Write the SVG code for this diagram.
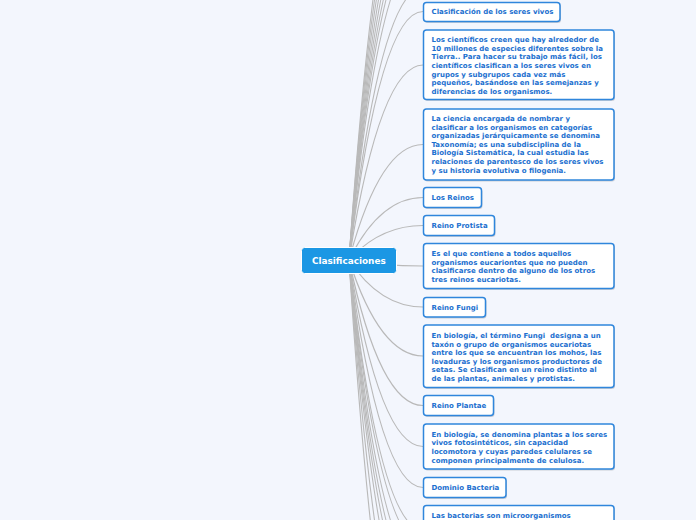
<svg xmlns="http://www.w3.org/2000/svg" width="696" height="520" viewBox="0 0 696 520">
<style>
.bg{fill:#f3f6fd}
.c{fill:none;stroke:#b9b9b9;stroke-width:1.2}
.sh{fill:#c9cdd6}
.box{fill:#ffffff;stroke:#2f86dc;stroke-width:1.5}
.t{font-family:"DejaVu Sans","Verdana",sans-serif;font-weight:bold;font-size:7px;fill:#1c70cf}
.root{fill:#1b97e4;stroke:#ffffff;stroke-width:1}
.rt{font-family:"DejaVu Sans","Verdana",sans-serif;font-weight:bold;font-size:8.9px;fill:#ffffff}
</style>
<rect class="bg" x="0" y="0" width="696" height="520"/>
<g id="connectors">
<path class="c" d="M349 260 Q380 -180 423 -180"/>
<path class="c" d="M349 260 Q380 -160 423 -160"/>
<path class="c" d="M349 260 Q380 -140 423 -140"/>
<path class="c" d="M349 260 Q380 -120 423 -120"/>
<path class="c" d="M349 260 Q380 -102 423 -102"/>
<path class="c" d="M349 260 Q380 -85 423 -85"/>
<path class="c" d="M349 260 Q380 -70 423 -70"/>
<path class="c" d="M349 260 Q380 -50 423 -50"/>
<path class="c" d="M349 260 Q380 -12 423 -12"/>
<path class="c" d="M349 260 Q380 11.5 423 11.5"/>
<path class="c" d="M349 260 Q380 65 423 65"/>
<path class="c" d="M349 260 Q380 144.5 423 144.5"/>
<path class="c" d="M349 260 Q380 197.5 423 197.5"/>
<path class="c" d="M349 260 Q380 225.5 423 225.5"/>
<path class="c" d="M349 260 Q380 266 423 266"/>
<path class="c" d="M349 260 Q380 307 423 307"/>
<path class="c" d="M349 260 Q380 356 423 356"/>
<path class="c" d="M349 260 Q380 405.5 423 405.5"/>
<path class="c" d="M349 260 Q380 446.5 423 446.5"/>
<path class="c" d="M349 260 Q380 487.5 423 487.5"/>
<path class="c" d="M349 260 Q380 530 423 530"/>
<path class="c" d="M349 260 Q380 545 423 545"/>
<path class="c" d="M349 260 Q380 570 423 570"/>
<path class="c" d="M349 260 Q380 590 423 590"/>
<path class="c" d="M349 260 Q380 610 423 610"/>
<path class="c" d="M349 260 Q380 635 423 635"/>
<path class="c" d="M349 260 Q380 680 423 680"/>
<path class="c" d="M349 260 Q380 740 423 740"/>
</g>
<g id="root">
<rect class="root" x="301.5" y="247.5" width="95" height="26" rx="3"/>
<text class="rt" x="312" y="264.2">Clasificaciones</text>
</g>
<g id="n1">
<rect class="sh" x="424.5" y="4" width="136.5" height="19" rx="3"/>
<rect class="box" x="423.5" y="2.5" width="136.5" height="19" rx="3"/>
<text class="t" x="431.5" y="14.4">Clasificación de los seres vivos</text>
</g>
<g id="n2">
<rect class="sh" x="424.5" y="31.5" width="190.5" height="69.5" rx="3"/>
<rect class="box" x="423.5" y="30" width="190.5" height="69.5" rx="3"/>
<text class="t" x="431.5" y="42">Los científicos creen que hay alrededor de</text>
<text class="t" x="431.5" y="50.7">10 millones de especies diferentes sobre la</text>
<text class="t" x="431.5" y="59.3">Tierra.. Para hacer su trabajo más fácil, los</text>
<text class="t" x="431.5" y="68">científicos clasifican a los seres vivos en</text>
<text class="t" x="431.5" y="76.7">grupos y subgrupos cada vez más</text>
<text class="t" x="431.5" y="85.3">pequeños, basándose en las semejanzas y</text>
<text class="t" x="431.5" y="94">diferencias de los organismos.</text>
</g>
<g id="n3">
<rect class="sh" x="424.5" y="110.5" width="190.5" height="71" rx="3"/>
<rect class="box" x="423.5" y="109" width="190.5" height="71" rx="3"/>
<text class="t" x="431.5" y="121">La ciencia encargada de nombrar y</text>
<text class="t" x="431.5" y="129.6">clasificar a los organismos en categorías</text>
<text class="t" x="431.5" y="138.2">organizadas jerárquicamente se denomina</text>
<text class="t" x="431.5" y="146.8">Taxonomía; es una subdisciplina de la</text>
<text class="t" x="431.5" y="155.4">Biología Sistemática, la cual estudia las</text>
<text class="t" x="431.5" y="164">relaciones de parentesco de los seres vivos</text>
<text class="t" x="431.5" y="172.6">y su historia evolutiva o filogenia.</text>
</g>
<g id="n4">
<rect class="sh" x="424.5" y="189" width="58" height="20" rx="3"/>
<rect class="box" x="423.5" y="187.5" width="58" height="20" rx="3"/>
<text class="t" x="431.5" y="200">Los Reinos</text>
</g>
<g id="n5">
<rect class="sh" x="424.5" y="217" width="71" height="20" rx="3"/>
<rect class="box" x="423.5" y="215.5" width="71" height="20" rx="3"/>
<text class="t" x="431.5" y="228.2">Reino Protista</text>
</g>
<g id="n6">
<rect class="sh" x="424.5" y="245" width="190.5" height="45" rx="3"/>
<rect class="box" x="423.5" y="243.5" width="190.5" height="45" rx="3"/>
<text class="t" x="431.5" y="256">Es el que contiene a todos aquellos</text>
<text class="t" x="431.5" y="264.6">organismos eucariontes que no pueden</text>
<text class="t" x="431.5" y="273.2">clasificarse dentro de alguno de los otros</text>
<text class="t" x="431.5" y="281.8">tres reinos eucariotas.</text>
</g>
<g id="n7">
<rect class="sh" x="424.5" y="299" width="62" height="19.5" rx="3"/>
<rect class="box" x="423.5" y="297.5" width="62" height="19.5" rx="3"/>
<text class="t" x="431.5" y="309.8">Reino Fungi</text>
</g>
<g id="n8">
<rect class="sh" x="424.5" y="326.5" width="190.5" height="62.5" rx="3"/>
<rect class="box" x="423.5" y="325" width="190.5" height="62.5" rx="3"/>
<text class="t" x="431.5" y="338">En biología, el término Fungi &#160;designa a un</text>
<text class="t" x="431.5" y="346.6">taxón o grupo de organismos eucariotas</text>
<text class="t" x="431.5" y="355.2">entre los que se encuentran los mohos, las</text>
<text class="t" x="431.5" y="363.8">levaduras y los organismos productores de</text>
<text class="t" x="431.5" y="372.4">setas. Se clasifican en un reino distinto al</text>
<text class="t" x="431.5" y="381">de las plantas, animales y protistas.</text>
</g>
<g id="n9">
<rect class="sh" x="424.5" y="397" width="70" height="20" rx="3"/>
<rect class="box" x="423.5" y="395.5" width="70" height="20" rx="3"/>
<text class="t" x="431.5" y="408">Reino Plantae</text>
</g>
<g id="n10">
<rect class="sh" x="424.5" y="425.5" width="190.5" height="45" rx="3"/>
<rect class="box" x="423.5" y="424" width="190.5" height="45" rx="3"/>
<text class="t" x="431.5" y="436.7">En biología, se denomina plantas a los seres</text>
<text class="t" x="431.5" y="445.3">vivos fotosintéticos, sin capacidad</text>
<text class="t" x="431.5" y="453.9">locomotora y cuyas paredes celulares se</text>
<text class="t" x="431.5" y="462.5">componen principalmente de celulosa.</text>
</g>
<g id="n11">
<rect class="sh" x="424.5" y="479" width="82.5" height="20" rx="3"/>
<rect class="box" x="423.5" y="477.5" width="82.5" height="20" rx="3"/>
<text class="t" x="431.5" y="490.3">Dominio Bacteria</text>
</g>
<g id="n12">
<rect class="sh" x="424.5" y="507" width="190.5" height="50" rx="3"/>
<rect class="box" x="423.5" y="505.5" width="190.5" height="50" rx="3"/>
<text class="t" x="431.5" y="518.3">Las bacterias son microorganismos</text>
</g>
</svg>
